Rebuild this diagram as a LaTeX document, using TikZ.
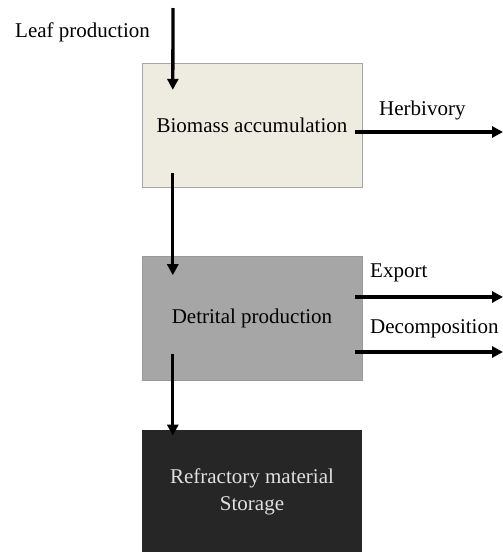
\documentclass[tikz,border=0pt]{standalone}
\usepackage{fontspec}
\setmainfont{Liberation Serif}
\usetikzlibrary{positioning,arrows.meta}
\definecolor{biofill}{HTML}{EEECE1}
\definecolor{detfill}{HTML}{A6A6A6}
\definecolor{reffill}{HTML}{262626}
\tikzset{node distance=2.0cm, auto,
  pool/.style={rectangle, minimum width=220pt, minimum height=124pt, inner sep=0pt, align=center},
  flow/.style={line width=3.3pt, -{Triangle[length=11pt,width=11pt]}},
  lbl/.style={inner sep=0pt, anchor=west}}

\begin{document}
\begin{tikzpicture}[x=1pt, y=-1pt, font=\fontsize{21}{27}\selectfont]
\useasboundingbox (0,0) rectangle (503,552);
\node[pool, fill=biofill, draw=gray!70] (bio) at (252,125) {Biomass accumulation};
\node[pool, fill=detfill, draw=gray!80, below=69pt of bio] (det) {Detrital production};
\node[pool, fill=reffill, text=white!88!black, below=49pt of det] (ref) {Refractory material\\Storage};
% inputs and transfers
\coordinate (leaftop) at (173,8);
\draw[flow] (leaftop) -- ([xshift=31pt,yshift=-27pt]bio.north west);
\draw[flow] ([xshift=31pt,yshift=14pt]bio.south west) -- ([xshift=31pt,yshift=-19pt]det.north west);
\draw[flow] ([xshift=31pt,yshift=27pt]det.south west) -- ([xshift=31pt,yshift=-6pt]ref.north west);
% losses
\coordinate (herbend) at (503,132);
\coordinate (expend) at (503,297);
\coordinate (decend) at (503,352);
\draw[flow] ([xshift=-7pt]bio.east |- herbend) -- (herbend);
\draw[flow] ([xshift=-7pt]det.east |- expend) -- (expend);
\draw[flow] ([xshift=-7pt]det.east |- decend) -- (decend);
% labels
\node[lbl] (leaf) at (15,32) {Leaf production};
\node[lbl] (herb) at (379,110) {Herbivory};
\node[lbl] (exp) at (370,273) {Export};
\node[lbl] (dec) at (370,329) {Decomposition};
\end{tikzpicture}
\end{document}
